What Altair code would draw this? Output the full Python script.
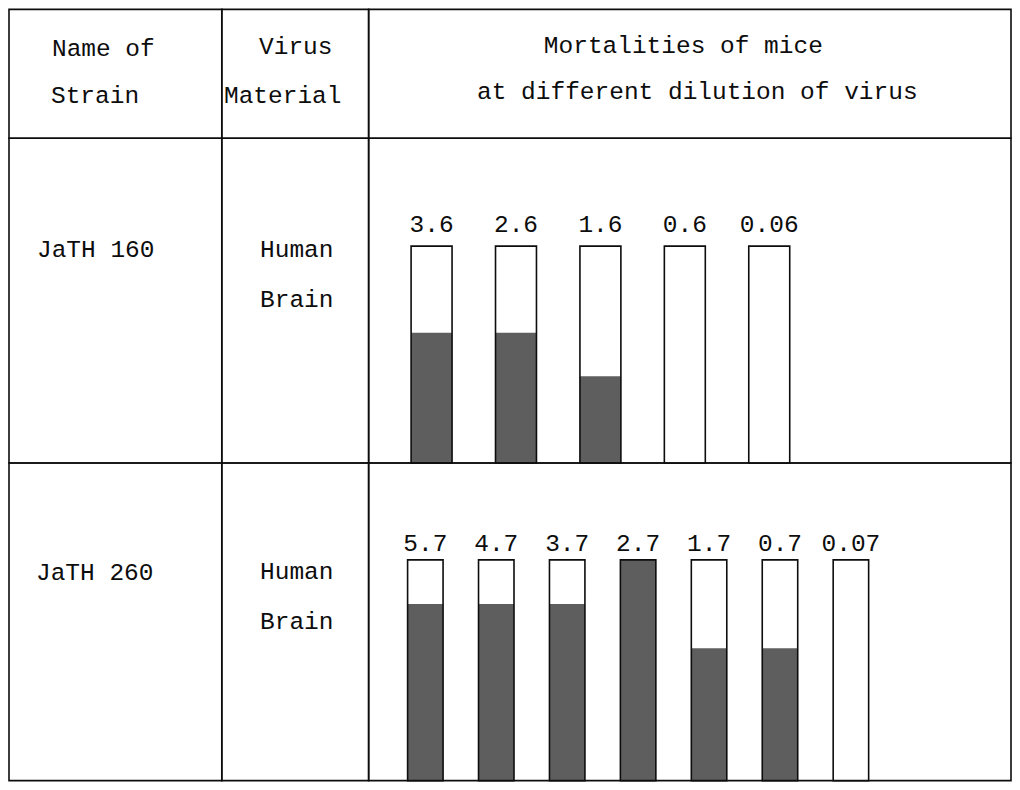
import altair as alt
import pandas as pd

# ---- data ----
header_strain = ["Name of", "Strain"]
header_material = ["Virus", "Material"]
header_mortality = ["Mortalities of mice", "at different dilution of virus"]

strains = ["JaTH 160", "JaTH 260"]
material_lines = ["Human", "Brain"]

dil_160 = ["3.6", "2.6", "1.6", "0.6", "0.06"]
mort_160 = [0.6, 0.6, 0.4, 0.0, 0.0]

dil_260 = ["5.7", "4.7", "3.7", "2.7", "1.7", "0.7", "0.07"]
mort_260 = [0.8, 0.8, 0.8, 1.0, 0.6, 0.6, 0.0]

# ---- layout ----
FONT = "Liberation Mono"
FS = 24.5
W1, W2, W3 = 213, 147, 643
H0, H1, H2 = 129, 325, 318
FILL = "#5e5e5e"
INK = "#0d0d0d"


def line(text, x, y, align="left"):
    df = pd.DataFrame({"label": [text]})
    return alt.Chart(df).mark_text(
        font=FONT, fontSize=FS, align=align, baseline="alphabetic", color=INK
    ).encode(text="label:N", x=alt.value(x), y=alt.value(y))


def band(n, first, step, bw):
    pi = 1 - bw / step
    stop = first + step * (n - pi)
    return alt.Scale(paddingInner=pi, paddingOuter=0, range=[first, stop], round=False)


def bars_cell(dils, morts, H, first, step, bw, bar_h, dy):
    df = pd.DataFrame({"dilution": dils, "mortality": morts, "full": [1.0] * len(dils)})
    xs = alt.X("dilution:N", sort=dils, scale=band(len(dils), first, step, bw), axis=None)
    ys = alt.Scale(domain=[0, H / bar_h], nice=False, zero=True)
    base = alt.Chart(df)
    white = base.mark_bar(fill="white").encode(
        x=xs, y=alt.Y("full:Q", scale=ys, axis=None), y2=alt.datum(0)
    )
    gray = base.mark_bar(fill=FILL).encode(
        x=xs, y=alt.Y("mortality:Q", scale=ys, axis=None), y2=alt.datum(0)
    )
    outline = base.mark_bar(filled=False, stroke=INK, strokeWidth=1.6).encode(
        x=xs, y=alt.Y("full:Q", scale=ys, axis=None), y2=alt.datum(0)
    )
    labels = base.mark_text(
        font=FONT, fontSize=FS, baseline="alphabetic", dy=dy, color=INK
    ).encode(x=xs, y=alt.Y("full:Q", scale=ys, axis=None), text="dilution:N")
    return alt.layer(white, gray, outline, labels).properties(width=W3, height=H)


# header row
h1 = alt.layer(line(header_strain[0], 43, 47), line(header_strain[1], 42, 94)).properties(width=W1, height=H0)
h2 = alt.layer(line(header_material[0], 74, 45, "center"), line(header_material[1], 61, 94, "center")).properties(width=W2, height=H0)
h3 = alt.layer(line(header_mortality[0], 315, 44, "center"), line(header_mortality[1], 329, 90, "center")).properties(width=W3, height=H0)

# row JaTH 160
r1c1 = line(strains[0], 28, 119).properties(width=W1, height=H1)
r1c2 = alt.layer(line(material_lines[0], 75, 119, "center"), line(material_lines[1], 75, 169, "center")).properties(width=W2, height=H1)
r1c3 = bars_cell(dil_160, mort_160, H1, 42.5, 84.5, 41, 217, -14)

# row JaTH 260
r2c1 = line(strains[1], 27, 117).properties(width=W1, height=H2)
r2c2 = alt.layer(line(material_lines[0], 75, 116, "center"), line(material_lines[1], 75, 166, "center")).properties(width=W2, height=H2)
r2c3 = bars_cell(dil_260, mort_260, H2, 39, 71, 35.5, 221, -9)

chart = alt.concat(
    h1, h2, h3,
    r1c1, r1c2, r1c3,
    r2c1, r2c2, r2c3,
    columns=3,
    spacing=0,
    bounds="flush",
).properties(
    padding={"left": 0, "top": 0, "right": 0, "bottom": 0},
    background="white",
).configure_view(stroke=INK, strokeWidth=1.6).configure_concat(spacing=0)

chart.save("out.html", embed_options={"renderer": "svg", "actions": False})
